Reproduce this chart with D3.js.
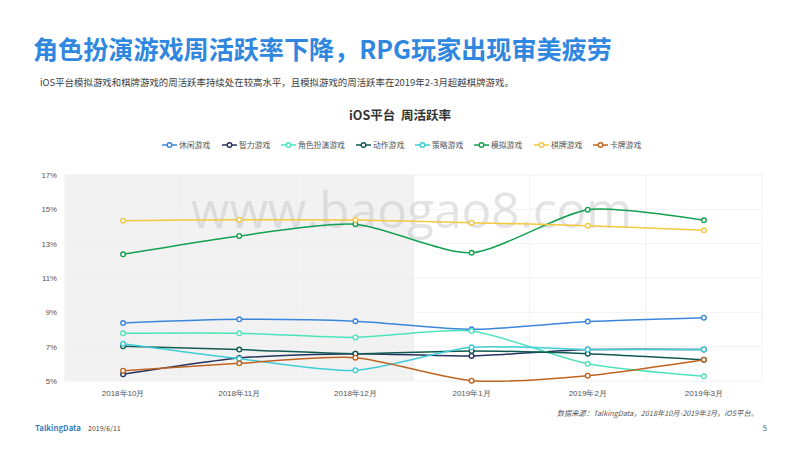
<!DOCTYPE html>
<html>
<head lang="en">
    <meta charset="UTF-8">
    <title>iOS平台 周活跃率</title>
    <script src="https://d3js.org/d3.v7.min.js" charset="utf-8"></script>
    <style type="text/css">
        html, body { margin: 0; padding: 0; background: #fff; }
        svg { display: block; font-family: "Noto Sans CJK SC", "Noto Sans", sans-serif; }
    </style>
</head>
<body>
<svg id="svg" width="800" height="450"></svg>
<script>
    var months = ["2018年10月", "2018年11月", "2018年12月", "2019年1月", "2019年2月", "2019年3月"];
    var yTicks = [5, 7, 9, 11, 13, 15, 17];

    var seriesNames = ["休闲游戏", "智力游戏", "角色扮演游戏", "动作游戏", "策略游戏", "模拟游戏", "棋牌游戏", "卡牌游戏"];
    var seriesColors = ["#3b86dc", "#24345f", "#4fe3bd", "#0f5a52", "#3fcdd6", "#12a150", "#f5c93f", "#bf6420"];

    var casual = [8.38, 8.59, 8.48, 8.01, 8.46, 8.69];
    var puzzle = [5.39, 6.34, 6.59, 6.46, 6.83, 6.84];
    var rpg = [7.78, 7.78, 7.54, 7.91, 6.0, 5.27];
    var action = [7.02, 6.83, 6.59, 6.75, 6.59, 6.24];
    var strategy = [7.17, 6.3, 5.62, 6.96, 6.84, 6.84];
    var simulation = [12.38, 13.45, 14.13, 12.47, 14.98, 14.36];
    var chess = [14.34, 14.4, 14.38, 14.22, 14.05, 13.78];
    var card = [5.6, 6.03, 6.36, 5.02, 5.31, 6.24];
    var allSeries = [casual, puzzle, rpg, action, strategy, simulation, chess, card];

    var legendX = [162, 222, 281, 356, 415, 474, 534, 593];

    var svg = d3.select("#svg");

    var x = d3.scaleBand().domain(months).range([65, 762]);
    var y = d3.scaleLinear().domain([5, 17]).range([381, 175]);

    // header
    svg.append("text").attr("x", 33).attr("y", 59)
        .attr("font-size", 25.1).attr("font-weight", 700).attr("fill", "#2f87e0")
        .text("角色扮演游戏周活跃率下降，RPG玩家出现审美疲劳");
    svg.append("text").attr("x", 40).attr("y", 86)
        .attr("font-size", 9.44).attr("fill", "#404040")
        .text("iOS平台模拟游戏和棋牌游戏的周活跃率持续处在较高水平，且模拟游戏的周活跃率在2019年2-3月超越棋牌游戏。");
    svg.append("text").attr("x", 400).attr("y", 120).attr("text-anchor", "middle")
        .attr("font-size", 12.5).attr("font-weight", 700).attr("fill", "#333")
        .attr("xml:space", "preserve").style("white-space", "pre")
        .text("iOS平台  周活跃率");

    // shaded months
    svg.append("rect").attr("x", x(months[0])).attr("y", y(17))
        .attr("width", x.step() * 3).attr("height", y(5) - y(17))
        .attr("fill", "#f2f2f2");

    // grid
    svg.append("g").selectAll("line").data(yTicks).enter().append("line")
        .attr("x1", 65).attr("x2", 762)
        .attr("y1", function (d) { return y(d); }).attr("y2", function (d) { return y(d); })
        .attr("stroke", "#eeeeee").attr("stroke-width", 0.8);
    svg.append("g").selectAll("line").data(months.concat(["end"])).enter().append("line")
        .attr("x1", function (d) { return d == "end" ? 762 : x(d); })
        .attr("x2", function (d) { return d == "end" ? 762 : x(d); })
        .attr("y1", y(17)).attr("y2", y(5))
        .attr("stroke", "#eeeeee").attr("stroke-width", 0.8);

    // axes
    var yAxis = d3.axisLeft(y).tickValues(yTicks).tickSize(0).tickPadding(7)
        .tickFormat(function (d) { return d + "%"; });
    var gy = svg.append("g").attr("transform", "translate(64,0)").call(yAxis);
    gy.select(".domain").remove();
    gy.selectAll("text").attr("font-size", 7.8).attr("fill", "#555").style("font-family", "inherit");

    var xAxis = d3.axisBottom(x).tickSize(0).tickPadding(9);
    var gx = svg.append("g").attr("transform", "translate(0,381)").call(xAxis);
    gx.select(".domain").remove();
    gx.selectAll("text").attr("font-size", 8).attr("fill", "#555").style("font-family", "inherit");

    // watermark goes under the lines
    svg.append("text").attr("x", 191).attr("y", 228)
        .attr("font-size", 49.6).attr("fill", "#c8c8c8").attr("opacity", 0.5)
        .style("font-family", "'Open Sans', sans-serif")
        .text("www.baogao8.com");

    // lines
    var line = d3.line()
        .x(function (d, i) { return x(months[i]) + x.bandwidth() / 2; })
        .y(function (d) { return y(d); })
        .curve(d3.curveCardinal.tension(0.3));

    allSeries.forEach(function (values, s) {
        svg.append("path").attr("d", line(values)).attr("fill", "none")
            .attr("stroke", seriesColors[s]).attr("stroke-width", 1.5);
        svg.append("g").selectAll("circle").data(values).enter().append("circle")
            .attr("cx", function (d, i) { return x(months[i]) + x.bandwidth() / 2; })
            .attr("cy", function (d) { return y(d); })
            .attr("r", 2.3).attr("fill", "#fff")
            .attr("stroke", seriesColors[s]).attr("stroke-width", 1.4);
    });

    // legend
    seriesNames.forEach(function (name, s) {
        var g = svg.append("g").attr("transform", "translate(" + legendX[s] + ",145)");
        g.append("line").attr("x1", 0).attr("x2", 15).attr("stroke", seriesColors[s]).attr("stroke-width", 1.5);
        g.append("circle").attr("cx", 7.5).attr("r", 2.3).attr("fill", "#fff")
            .attr("stroke", seriesColors[s]).attr("stroke-width", 1.4);
        g.append("text").attr("x", 17).attr("y", 3).attr("font-size", 7.8).attr("fill", "#555").text(name);
    });

    // footer
    svg.append("text").attr("x", 758).attr("y", 416).attr("text-anchor", "end")
        .attr("font-size", 7.3).attr("font-style", "italic").attr("fill", "#555")
        .text("数据来源：TalkingData，2018年10月-2019年3月，iOS平台。");
    svg.append("text").attr("x", 35).attr("y", 431)
        .attr("font-size", 7.8).attr("font-weight", 700).attr("fill", "#3a7fc1")
        .text("TalkingData");
    svg.append("text").attr("x", 88).attr("y", 431)
        .attr("font-size", 7).attr("fill", "#444").text("2019/6/11");
    svg.append("text").attr("x", 767).attr("y", 431).attr("text-anchor", "end")
        .attr("font-size", 7.5).attr("fill", "#555").text("5");
</script>
</body>
</html>
